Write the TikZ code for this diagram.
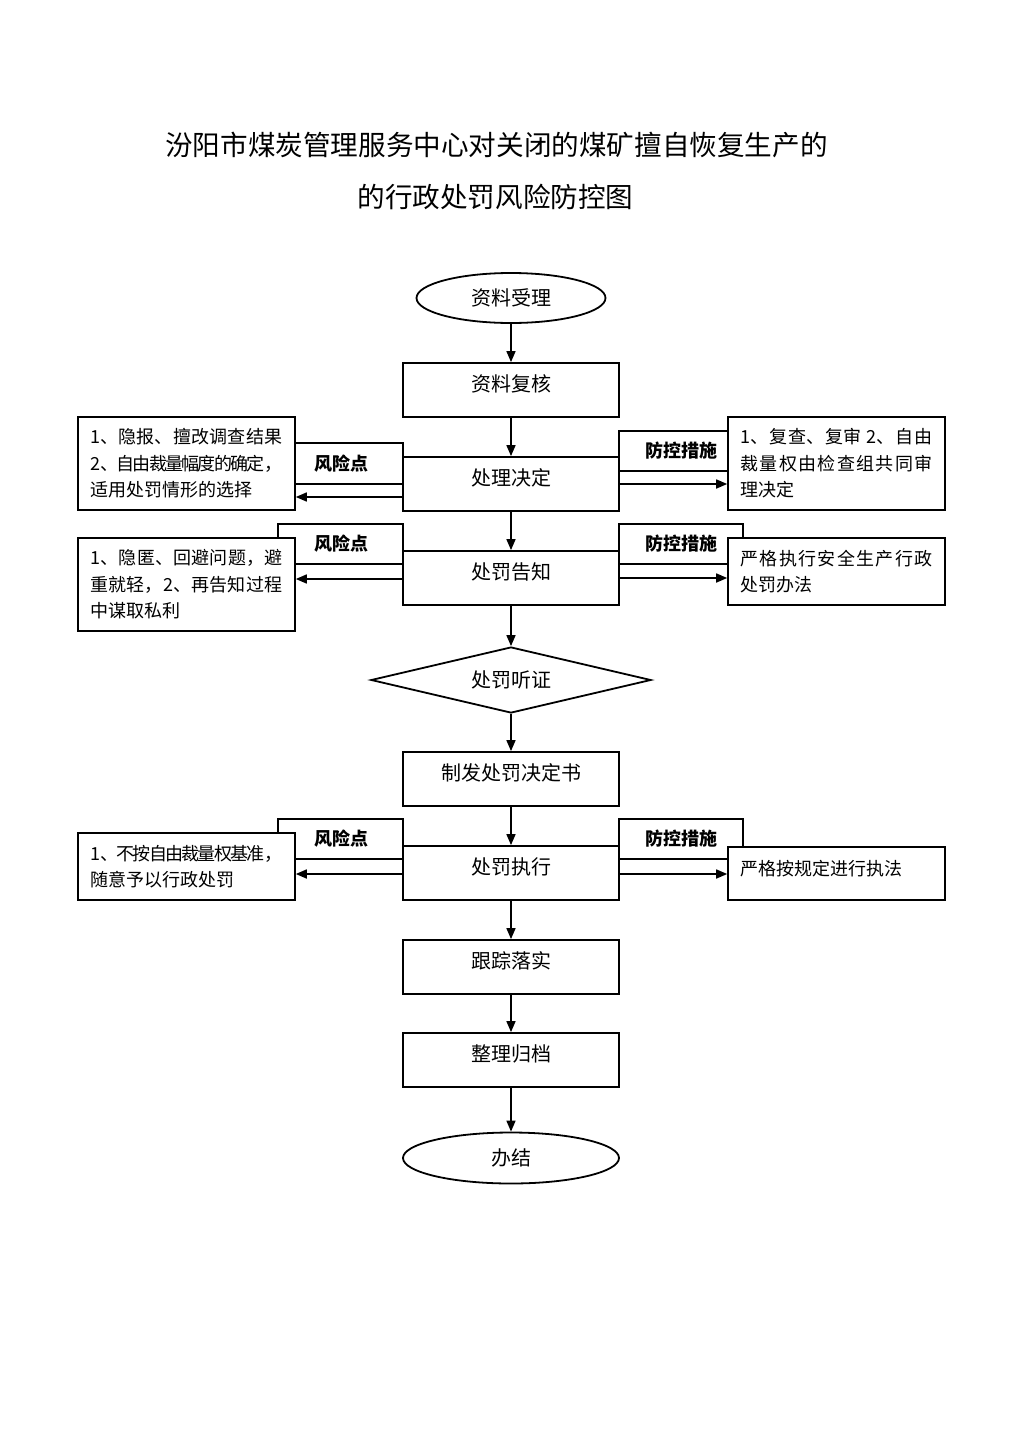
\documentclass[tikz,border=0pt]{standalone}
\usepackage{fontspec}
\setmainfont{Noto Sans CJK SC}
\usetikzlibrary{shapes.geometric,arrows.meta}
\newcommand{\cjkjust}{\XeTeXlinebreaklocale "zh"\XeTeXlinebreakskip=0pt plus 2pt minus 2pt\relax}
\begin{document}
\begin{tikzpicture}[x=1pt,y=-1pt,
  box/.style={draw, line width=1.8pt, minimum width=216pt, minimum height=54pt, inner sep=0pt,
    font=\fontsize{20}{24}\selectfont, text height=10pt, text depth=7pt},
  oval/.style={draw, ellipse, line width=1.8pt, inner sep=0pt, font=\fontsize{20}{24}\selectfont},
  dia/.style={draw, diamond, aspect=4, line width=1.8pt, inner sep=0pt, minimum width=280pt,
    minimum height=66pt, font=\fontsize{20}{24}\selectfont},
  side/.style={draw, fill=white, line width=1.6pt, text width=192pt, inner xsep=12.5pt, inner ysep=0pt,
    align=justify, font=\cjkjust\fontsize{18}{26.5}\selectfont},
  lab/.style={draw, fill=white, line width=1.6pt, inner sep=0pt},
  labtxt/.style={font=\bfseries\fontsize{18}{20}\selectfont},
  arr/.style={line width=1.6pt, -{Triangle[length=11pt,width=9pt]}}
]
\useasboundingbox (0,0) rectangle (1024,1448);

% title
\node[font=\fontsize{27.6}{32}\selectfont] (t1) at (496.5,145) {汾阳市煤炭管理服务中心对关闭的煤矿擅自恢复生产的};
\node[font=\fontsize{27.6}{32}\selectfont] (t2) at (495.5,197) {的行政处罚风险防控图};

% label boxes (drawn first)
\node[lab, minimum width=108pt, minimum height=41pt] (l1L) at (349,463.5) {};
\node[lab, minimum width=109pt, minimum height=40pt] (l1R) at (673.5,451) {};
\node[lab, minimum width=125pt, minimum height=40pt] (l2L) at (340.5,544) {};
\node[lab, minimum width=124pt, minimum height=40pt] (l2R) at (681,544) {};
\node[lab, minimum width=125pt, minimum height=40pt] (l3L) at (340.5,839) {};
\node[lab, minimum width=124pt, minimum height=40pt] (l3R) at (681,839) {};

\node[labtxt] (t1L) at (341,464) {风险点};
\node[labtxt] (t1R) at (681,451) {防控措施};
\node[labtxt] (t2L) at (341,544) {风险点};
\node[labtxt] (t2R) at (681,544) {防控措施};
\node[labtxt] (t3L) at (341,839) {风险点};
\node[labtxt] (t3R) at (681,839) {防控措施};

% main flow
\node[oval, minimum width=189pt, minimum height=50pt] (start) at (511,298) {资料受理};
\node[box] (review) at (511,390) {资料复核};
\node[box] (dec) at (511,484) {处理决定};
\node[box] (notice) at (511,578) {处罚告知};
\node[dia] (hear) at (511,680) {处罚听证};
\node[box] (issue) at (511,779) {制发处罚决定书};
\node[box] (exec) at (511,873) {处罚执行};
\node[box] (track) at (511,967) {跟踪落实};
\node[box] (file) at (511,1060) {整理归档};
\node[oval, minimum width=216pt, minimum height=51pt] (finish) at (511,1158) {办结};

% side boxes
\node[side, minimum height=93pt] (risk1) at (186.5,463.5) {1、隐报、擅改调查结果\linebreak 2、自由裁量幅度的确定，\linebreak 适用处罚情形的选择};
\node[side, minimum height=93pt] (ctrl1) at (836.5,463.5) {1、复查、复审 2、自由\linebreak 裁量权由检查组共同审\linebreak 理决定};
\node[side, minimum height=93pt] (risk2) at (186.5,584.5) {1、隐匿、回避问题，避\linebreak 重就轻，2、再告知过程\linebreak 中谋取私利};
\node[side, minimum height=67pt] (ctrl2) at (836.5,571.5) {严格执行安全生产行政\linebreak 处罚办法};
\node[side, minimum height=67pt] (risk3) at (186.5,866.5) {1、不按自由裁量权基准，\linebreak 随意予以行政处罚};
\node[side, minimum height=53pt, text height=10pt, text depth=7pt] (ctrl3) at (836.5,873.5) {严格按规定进行执法};

% vertical arrows
\draw[arr] (start.south) -- (review.north);
\draw[arr] (review.south) -- (dec.north);
\draw[arr] (dec.south) -- (notice.north);
\draw[arr] (notice.south) -- (hear.north);
\draw[arr] (hear.south) -- (issue.north);
\draw[arr] (issue.south) -- (exec.north);
\draw[arr] (exec.south) -- (track.north);
\draw[arr] (track.south) -- (file.north);
\draw[arr] (file.south) -- (finish.north);

% horizontal arrows
\draw[arr] ([yshift=-13pt]dec.west) -- ([yshift=-13pt]dec.west -| risk1.east);
\draw[arr] (dec.east) -- (dec.east -| ctrl1.west);
\draw[arr] ([yshift=-1pt]notice.west) -- ([yshift=-1pt]notice.west -| risk2.east);
\draw[arr] (notice.east) -- (notice.east -| ctrl2.west);
\draw[arr] ([yshift=-1pt]exec.west) -- ([yshift=-1pt]exec.west -| risk3.east);
\draw[arr] ([yshift=-1pt]exec.east) -- ([yshift=-1pt]exec.east -| ctrl3.west);
\end{tikzpicture}
\end{document}
